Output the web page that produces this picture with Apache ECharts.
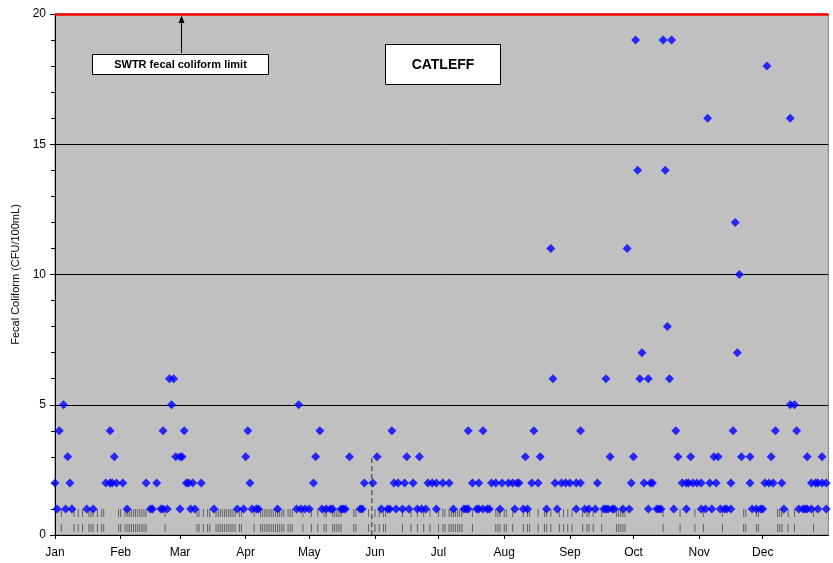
<!DOCTYPE html>
<html>
<head>
<meta charset="utf-8">
<script src="https://cdn.jsdelivr.net/npm/echarts@6/dist/echarts.min.js"></script>
<style>
html,body{margin:0;padding:0;background:#fff;}
#chart{width:833px;height:563px;}
</style>
</head>
<body>
<div id="chart"></div>
<script>
// Sample day (days after Jan 1) and fecal coliform result (CFU/100mL)
const sampleDays = [
  0,1,2,4,5,6,7,8,15,18,24,26,26,27,28,29,32,34,43,45,46,48,50,51,51,53,54,55,56,57,59,59,60,61,62,63,64,65,66,69,
  75,86,89,90,91,92,93,95,96,105,114,115,116,118,120,122,123,125,126,128,130,131,135,136,137,139,144,145,146,150,
  152,154,157,158,159,160,161,162,164,165,166,167,169,171,172,173,175,176,178,180,180,183,186,188,193,194,195,195,
  197,199,200,200,202,202,204,205,206,208,210,211,214,216,217,218,219,221,222,223,225,226,228,229,232,234,235,236,
  237,239,241,243,246,246,248,248,250,252,255,256,259,260,260,261,262,263,264,268,270,271,272,273,274,275,276,277,
  278,280,280,281,282,284,285,286,287,288,289,290,291,292,293,294,296,298,298,299,300,301,303,305,305,307,308,309,
  310,311,312,313,314,316,317,319,319,320,321,322,323,324,328,328,329,331,333,334,335,336,337,338,339,340,343,344,
  347,347,349,350,351,353,354,355,355,357,357,359,360,360,362,362,364,364
];
const fecalCFU = [
  2,1,4,5,1,3,2,1,1,1,2,2,4,2,3,2,2,1,2,1,1,2,1,1,4,1,6,5,6,3,1,3,3,4,2,2,1,2,1,2,
  1,1,1,3,4,2,1,1,1,1,1,5,1,1,1,2,3,4,1,1,1,1,1,1,1,3,1,1,2,2,
  3,1,1,1,4,2,1,2,1,2,3,1,2,1,3,1,1,2,2,1,2,2,2,1,1,1,1,4,
  2,1,1,2,1,4,1,1,2,2,1,2,2,2,1,2,2,1,3,1,2,4,2,3,1,11,6,2,
  1,2,2,2,1,2,2,4,1,1,1,2,1,1,6,1,3,1,1,1,11,1,2,3,19,14,6,7,
  2,1,6,2,2,1,1,1,19,14,8,6,19,1,4,3,2,1,2,2,3,2,2,1,2,1,16,2,
  1,3,2,3,1,1,1,1,2,4,12,7,10,3,2,3,1,1,1,1,2,18,2,3,2,4,2,1,
  5,16,5,4,1,1,1,1,3,1,2,2,1,2,2,3,1,2
];
// Days with non-detect samples (rug marks along the bottom)
const nonDetectDays = [
  3,9,11,13,16,17,18,20,22,23,30,31,33,34,35,36,37,38,39,40,41,42,43,52,67,68,70,72,73,76,77,78,79,80,81,82,83,84,85,87,88,
  94,97,98,99,100,101,102,103,104,105,106,107,108,110,111,112,117,121,124,127,128,131,132,133,134,135,141,142,148,151,153,
  155,156,164,168,171,174,177,181,183,184,186,187,188,189,190,191,192,197,208,209,210,212,213,216,221,223,224,228,231,232,
  234,238,240,242,244,249,251,252,254,258,265,266,267,268,269,287,295,302,306,315,325,326,331,332,341,342,343,346,349,358
];
const rugRowValues = [0.84, 0.27];
const limitValue = 20;
const markerDay = 149.5;      // dashed vertical reference
const markerTop = 3;
const monthNames = ['Jan','Feb','Mar','Apr','May','Jun','Jul','Aug','Sep','Oct','Nov','Dec'];
const yTicks = [0,5,10,15,20];

const BASE = Date.UTC(2007, 0, 1);
const DAY = 86400000;
const toTime = d => BASE + d * DAY;

const points = sampleDays.map((d, i) => [toTime(d), fecalCFU[i]]);
const rugSeries = rugRowValues.map(v => ({
  type: 'scatter',
  symbol: 'rect',
  symbolSize: [1, 8],
  itemStyle: { color: '#4a4a4a' },
  data: nonDetectDays.map(d => [toTime(d), v]),
  silent: true,
  z: 2
}));

const chart = echarts.init(document.getElementById('chart'), null, { renderer: 'canvas' });
chart.setOption({
  useUTC: true,
  animation: false,
  backgroundColor: '#ffffff',
  textStyle: { fontFamily: 'Liberation Sans, Arial, sans-serif' },
  grid: {
    left: 55, right: 4.6, top: 14, bottom: 28,
    show: true, backgroundColor: '#C0C0C0', borderColor: '#808080', borderWidth: 1,
    containLabel: false
  },
  xAxis: {
    type: 'time',
    min: toTime(0), max: toTime(365),
    splitNumber: 12,
    axisLine: { show: true, lineStyle: { color: '#000', width: 1 } },
    axisTick: { show: true, length: 4, lineStyle: { color: '#000' } },
    minorTick: { show: false },
    splitLine: { show: false },
    axisLabel: {
      color: '#000', fontSize: 12, margin: 12,
      fontFamily: 'Liberation Sans, Arial, sans-serif',
      showMaxLabel: false, showMinLabel: true, hideOverlap: false,
      formatter: v => monthNames[new Date(v).getUTCMonth()]
    }
  },
  yAxis: {
    type: 'value', min: yTicks[0], max: yTicks[yTicks.length - 1], interval: 5,
    name: 'Fecal Coliform (CFU/100mL)', nameLocation: 'middle', nameGap: 33,
    nameTextStyle: { color: '#000', fontSize: 11, fontFamily: 'Liberation Sans, Arial, sans-serif' },
    axisLine: { show: true, lineStyle: { color: '#000', width: 1 } },
    axisTick: { show: true, length: 5, lineStyle: { color: '#000' } },
    minorTick: { show: true, splitNumber: 5, length: 4, lineStyle: { color: '#000' } },
    splitLine: { show: true, lineStyle: { color: '#000', width: 1 } },
    axisLabel: { color: '#000', fontSize: 12, margin: 9, fontFamily: 'Liberation Sans, Arial, sans-serif' }
  },
  series: [
    ...rugSeries,
    {
      type: 'line',
      data: [[toTime(markerDay), 0], [toTime(markerDay), markerTop]],
      symbol: 'none',
      lineStyle: { color: '#606060', width: 1.5, type: [5, 3] },
      silent: true, z: 3
    },
    {
      type: 'scatter',
      symbol: 'diamond',
      symbolSize: 9,
      itemStyle: { color: '#0000FF' },
      data: points,
      z: 5,
      markLine: {
        silent: true, symbol: 'none',
        label: { show: false },
        lineStyle: { color: '#FF0000', width: 2.5, type: 'solid' },
        data: [{ yAxis: limitValue }]
      }
    }
  ],
  graphic: [
    { type: 'line', shape: { x1: 181.5, y1: 53, x2: 181.5, y2: 22 }, style: { stroke: '#000', lineWidth: 1 }, z: 10 },
    { type: 'polygon', shape: { points: [[181.5, 15.5], [178.5, 23], [184.5, 23]] }, style: { fill: '#000' }, z: 10 },
    { type: 'rect', shape: { x: 92.5, y: 54.5, width: 176, height: 20 }, style: { fill: '#fff', stroke: '#000', lineWidth: 1 }, z: 10 },
    { type: 'text', x: 180.5, y: 64.5, style: { text: 'SWTR fecal coliform limit', fill: '#000', font: 'bold 11px "Liberation Sans", Arial, sans-serif', textAlign: 'center', textVerticalAlign: 'middle' }, z: 11 },
    { type: 'rect', shape: { x: 385.5, y: 44.5, width: 115, height: 40 }, style: { fill: '#fff', stroke: '#000', lineWidth: 1 }, z: 10 },
    { type: 'text', x: 443, y: 65, style: { text: 'CATLEFF', fill: '#000', font: 'bold 14px "Liberation Sans", Arial, sans-serif', textAlign: 'center', textVerticalAlign: 'middle' }, z: 11 }
  ]
});
</script>
</body>
</html>
